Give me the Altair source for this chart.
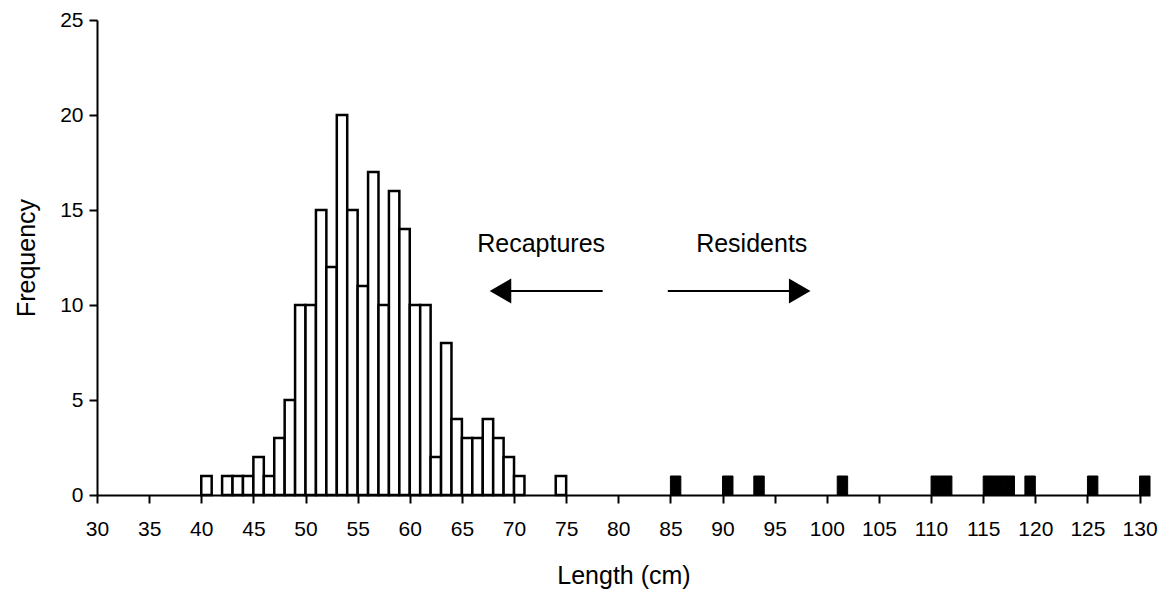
import altair as alt
import pandas as pd

# Recaptures (open bars): length bin start (cm) and frequency
rec_len = [40, 42, 43, 44, 45, 46, 47, 48, 49, 50, 51, 52, 53, 54, 55, 56, 57, 58, 59,
           60, 61, 62, 63, 64, 65, 66, 67, 68, 69, 70, 74]
rec_freq = [1, 1, 1, 1, 2, 1, 3, 5, 10, 10, 15, 12, 20, 15, 11, 17, 10, 16, 14,
            10, 10, 2, 8, 4, 3, 3, 4, 3, 2, 1, 1]

# Residents (filled bars)
res_len = [85, 90, 93, 101, 110, 111, 115, 116, 117, 119, 125, 130]
res_freq = [1, 1, 1, 1, 1, 1, 1, 1, 1, 1, 1, 1]

x_ticks = list(range(30, 131, 5))
y_ticks = [0, 5, 10, 15, 20, 25]

rec = pd.DataFrame({"x": rec_len, "x2": [v + 1 for v in rec_len], "f": rec_freq})
res = pd.DataFrame({"x": res_len, "x2": [v + 1 for v in res_len], "f": res_freq})

# annotations
ann_text = ["Recaptures", "Residents"]
ann_x = [72.6, 92.8]
ann_y = [13.2, 13.2]
arrow_from = [78.5, 84.75]
arrow_to = [69.7, 96.4]
arrow_y = [10.74, 10.74]
head_x = [68.7, 97.4]
head_shape = ["triangle-left", "triangle-right"]

labels = pd.DataFrame({"x": ann_x, "y": ann_y, "t": ann_text})
arrows = pd.DataFrame({"x": arrow_from, "x2": arrow_to, "y": arrow_y})
heads = pd.DataFrame({"x": head_x, "y": arrow_y, "s": head_shape})

FONT = "Liberation Sans"
xs = alt.Scale(domain=[30, 131], nice=False, zero=False)
ys = alt.Scale(domain=[0, 25], nice=False)

common = dict(grid=False, labelFontSize=21, titleFontSize=25, labelFont=FONT, titleFont=FONT,
              titleFontWeight="normal", labelColor="black", titleColor="black",
              domainColor="black", tickColor="black", domainWidth=2, tickWidth=2, tickSize=8)

x_axis = alt.Axis(values=x_ticks, title="Length  (cm)", labelPadding=15, titlePadding=24,
                  labelFlush=False, **common)
y_axis = alt.Axis(values=y_ticks, title="Frequency", labelPadding=6, titlePadding=20, **common)

open_bars = alt.Chart(rec).mark_rect(fill="white", stroke="black", strokeWidth=2.5).encode(
    x=alt.X("x:Q", scale=xs, axis=x_axis),
    x2="x2:Q",
    y=alt.Y("f:Q", scale=ys, axis=y_axis),
    y2=alt.datum(0),
)

solid_bars = alt.Chart(res).mark_rect(fill="black", stroke="black", strokeWidth=1).encode(
    x=alt.X("x:Q", scale=xs),
    x2="x2:Q",
    y=alt.Y("f:Q", scale=ys),
    y2=alt.datum(0),
)

text = alt.Chart(labels).mark_text(font=FONT, fontSize=25, color="black").encode(
    x=alt.X("x:Q", scale=xs), y=alt.Y("y:Q", scale=ys), text="t:N"
)

arrow_lines = alt.Chart(arrows).mark_rule(color="black", strokeWidth=2).encode(
    x=alt.X("x:Q", scale=xs), x2="x2:Q", y=alt.Y("y:Q", scale=ys)
)

arrow_heads = alt.Chart(heads).mark_point(filled=True, color="black", opacity=1, size=620).encode(
    x=alt.X("x:Q", scale=xs), y=alt.Y("y:Q", scale=ys),
    shape=alt.Shape("s:N", scale=None, legend=None),
)

chart = alt.layer(open_bars, solid_bars, text, arrow_lines, arrow_heads).properties(
    width=1053, height=475,
    autosize="none",
    padding={"left": 89, "top": 12, "right": 10, "bottom": 100},
    background="white",
).configure_view(stroke=None)

chart.save("out.html", embed_options={"renderer": "svg", "actions": False})
